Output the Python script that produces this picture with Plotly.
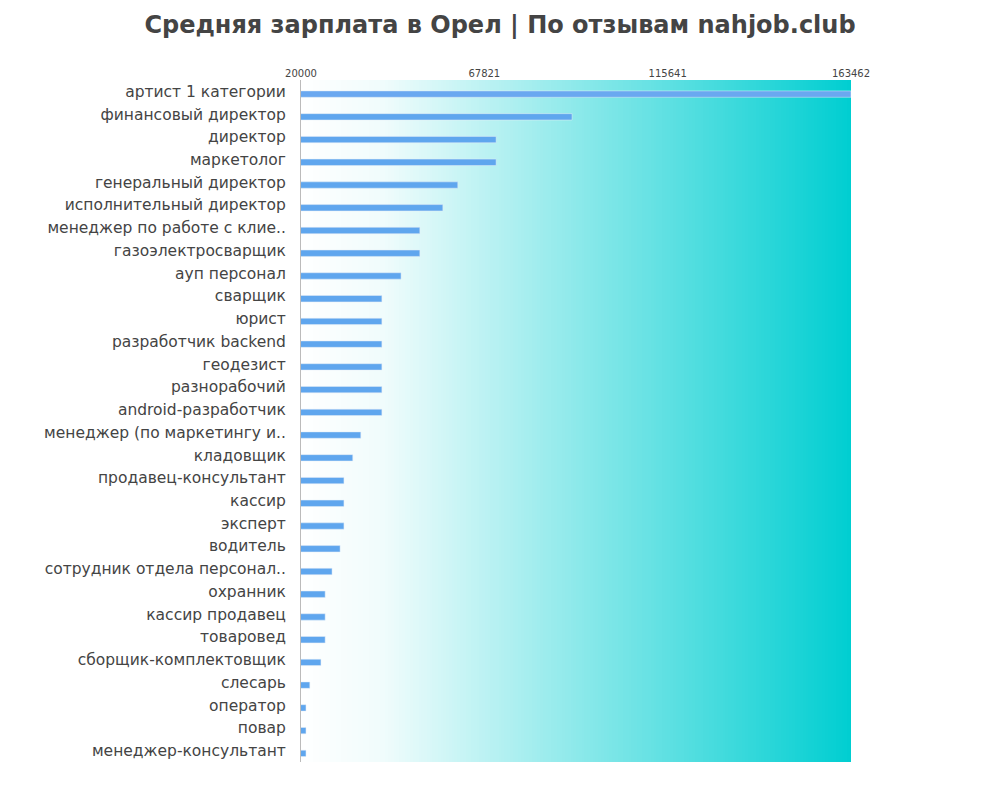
import numpy as np
import plotly.graph_objects as go

jobs = ["артист 1 категории", "финансовый директор", "директор", "маркетолог",
        "генеральный директор", "исполнительный директор", "менеджер по работе с клие..",
        "газоэлектросварщик", "ауп персонал", "сварщик", "юрист", "разработчик backend",
        "геодезист", "разнорабочий", "android-разработчик", "менеджер (по маркетингу и..",
        "кладовщик", "продавец-консультант", "кассир", "эксперт", "водитель",
        "сотрудник отдела персонал..", "охранник", "кассир продавец", "товаровед",
        "сборщик-комплектовщик", "слесарь", "оператор", "повар", "менеджер-консультант"]
salary = [163462, 90700, 70900, 70900, 60900, 57000, 51000, 51000, 46100, 41100,
          41100, 41100, 41100, 41100, 41100, 35600, 33500, 31200, 31200, 31200,
          30200, 28100, 26300, 26300, 26300, 25200, 22300, 21300, 21300, 21300]
ticks = [20000, 67821, 115641, 163462]

fig = go.Figure()

# gradient background on the base axes
gx = np.linspace(0, 1, 200)
fig.add_trace(go.Heatmap(x=gx, y=[0, 1], z=[gx, gx],
                         colorscale=[[0, "#ffffff"], [0.15, "#f0fcfc"], [1, "#00ced1"]],
                         showscale=False, hoverinfo="skip"))

fig.add_trace(go.Bar(y=jobs, x=salary, orientation="h", xaxis="x2", yaxis="y2",
                     marker_color=["#6aa8f0"] + ["#5fa6ee"] * (len(jobs) - 1),
                     width=0.28, offset=-0.02, hoverinfo="x+y"))

fig.update_layout(
    width=1000, height=800, plot_bgcolor="white", paper_bgcolor="white",
    showlegend=False, margin=dict(l=293, r=157, t=72, b=46),
    title=dict(text="<b>Средняя зарплата в Орел | По отзывам nahjob.club</b>", x=0.492,
               xanchor="center", xref="container", y=0.99, yanchor="top",
               font=dict(size=24, color="#444", family="DejaVu Sans")),
    font=dict(family="DejaVu Sans", color="#444"),
    xaxis=dict(range=[0, 1], visible=False),
    yaxis=dict(range=[0, 1], visible=False),
    xaxis2=dict(overlaying="x", range=[20000, 163462], side="top", tickvals=ticks,
                ticktext=[str(t) for t in ticks], tickfont=dict(size=10),
                showgrid=False, zeroline=False, showline=False),
    yaxis2=dict(overlaying="y", autorange="reversed", tickfont=dict(size=15.5), showgrid=False,
                showline=True, linecolor="#bbb", ticks="", ticklabelstandoff=11),
)
fig.write_html("out.html")
